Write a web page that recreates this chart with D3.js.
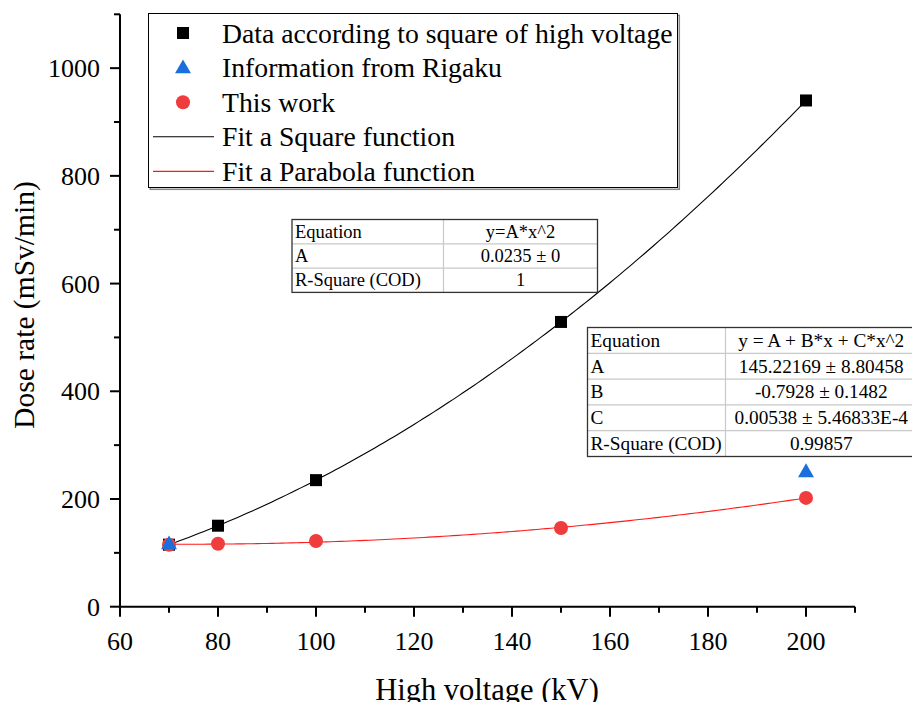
<!DOCTYPE html>
<html>
<head>
<meta charset="utf-8">
<script src="https://cdn.jsdelivr.net/npm/d3@7"></script>
<style>
  body { margin: 0; background: #fff; }
  text { font-family: "Liberation Serif", "DejaVu Serif", serif; fill: #000; }
</style>
</head>
<body>
<div id="chart"></div>
<script>
// voltages (kV)
var squareX = [70, 80, 100, 150, 200];
var squareY = [115.15, 150.4, 235, 528.75, 940];
var rigakuX = [70, 200];
var rigakuY = [117, 251];
var workX = [70, 80, 100, 150, 200];
var workY = [115, 117, 122, 146, 202];

// fit parameters shown in the tables
var squareA = 0.0235;
var paraA = 145.22169, paraB = -0.7928, paraC = 0.00538;

var legendLabels = ["Data according to square of high voltage", "Information from Rigaku",
    "This work", "Fit a Square function", "Fit a Parabola function"];
var table1 = [["Equation", "y=A*x^2"], ["A", "0.0235 \u00b1 0"], ["R-Square (COD)", "1"]];
var table2 = [["Equation", "y = A + B*x + C*x^2"], ["A", "145.22169 \u00b1 8.80458"],
    ["B", "-0.7928 \u00b1 0.1482"], ["C", "0.00538 \u00b1 5.46833E-4"], ["R-Square (COD)", "0.99857"]];

var xMajor = [60, 80, 100, 120, 140, 160, 180, 200];
var xMinor = [70, 90, 110, 130, 150, 170, 190, 210];
var yMajor = [0, 200, 400, 600, 800, 1000];
var yMinor = [100, 300, 500, 700, 900, 1100];

var width = 912, height = 702;
var svg = d3.select("#chart").append("svg").attr("width", width).attr("height", height);

var x = d3.scaleLinear().domain([60, 210]).range([120, 855]);
var y = d3.scaleLinear().domain([0, 1100]).range([606.7, 14.3]);

// fit curves
var curveXs = d3.range(70, 200.01, 1);
var line = d3.line().x(function(d) { return x(d[0]); }).y(function(d) { return y(d[1]); });
svg.append("path")
    .datum(curveXs.map(function(v) { return [v, squareA * v * v]; }))
    .attr("d", line).attr("fill", "none").attr("stroke", "#000").attr("stroke-width", 1.1);
svg.append("path")
    .datum(curveXs.map(function(v) { return [v, paraA + paraB * v + paraC * v * v]; }))
    .attr("d", line).attr("fill", "none").attr("stroke", "#ff1a1a").attr("stroke-width", 1.1);

// axes
function axisBits(g, scale, major, minor, horizontal) {
    g.append("line")
        .attr(horizontal ? "x1" : "y1", scale.range()[0])
        .attr(horizontal ? "x2" : "y2", scale.range()[1])
        .attr("stroke", "#000").attr("stroke-width", 2);
    [[major, 10], [minor, 6]].forEach(function(set) {
        g.selectAll(null).data(set[0]).enter().append("line")
            .attr(horizontal ? "x1" : "y1", function(d) { return scale(d); })
            .attr(horizontal ? "x2" : "y2", function(d) { return scale(d); })
            .attr(horizontal ? "y1" : "x1", 0)
            .attr(horizontal ? "y2" : "x2", horizontal ? set[1] : -set[1])
            .attr("stroke", "#000").attr("stroke-width", 2);
    });
}
var gx = svg.append("g").attr("transform", "translate(0," + y(0) + ")");
axisBits(gx, x, xMajor, xMinor, true);
gx.selectAll("text.tick").data(xMajor).enter().append("text")
    .attr("x", function(d) { return x(d); }).attr("y", 43)
    .attr("text-anchor", "middle").style("font-size", "26px").text(function(d) { return d; });

var gy = svg.append("g").attr("transform", "translate(" + x(60) + ",0)");
axisBits(gy, y, yMajor, yMinor, false);
gy.selectAll("text.tick").data(yMajor).enter().append("text")
    .attr("x", -20).attr("y", function(d) { return y(d) + 9; })
    .attr("text-anchor", "end").style("font-size", "26px").text(function(d) { return d; });

svg.append("text").attr("x", 487).attr("y", 700).attr("text-anchor", "middle")
    .style("font-size", "30.5px").text("High voltage (kV)");
svg.append("text").attr("transform", "translate(34,305) rotate(-90)").attr("text-anchor", "middle")
    .style("font-size", "29.5px").text("Dose rate (mSv/min)");

// markers
var sq = 12;
svg.selectAll("rect.sq").data(squareX).enter().append("rect")
    .attr("x", function(d) { return x(d) - sq / 2; })
    .attr("y", function(d, i) { return y(squareY[i]) - sq / 2; })
    .attr("width", sq).attr("height", sq).attr("fill", "#000");
svg.selectAll("circle.work").data(workX).enter().append("circle")
    .attr("cx", function(d) { return x(d); })
    .attr("cy", function(d, i) { return y(workY[i]); })
    .attr("r", 7).attr("fill", "#f03c3c");
var tri = d3.symbol().type(d3.symbolTriangle).size(110);
svg.selectAll("path.rig").data(rigakuX).enter().append("path")
    .attr("d", tri)
    .attr("transform", function(d, i) { return "translate(" + x(d) + "," + (y(rigakuY[i]) + 1) + ")"; })
    .attr("fill", "#1a6fdc");

// legend
var lg = svg.append("g");
lg.append("rect").attr("x", 149.5).attr("y", 14.5).attr("width", 529).attr("height", 174)
    .attr("fill", "none").attr("stroke", "#888").attr("stroke-width", 1.5).attr("transform", "translate(0.8,0.8)");
lg.append("rect").attr("x", 148.5).attr("y", 13.5).attr("width", 529).attr("height", 174)
    .attr("fill", "#fff").attr("stroke", "#000").attr("stroke-width", 1);
var rowY = function(i) { return 33 + i * 34.6; };
lg.selectAll("text").data(legendLabels).enter().append("text")
    .attr("x", 222).attr("y", function(d, i) { return rowY(i) + 9.5; })
    .style("font-size", "27.7px").text(function(d) { return d; });
lg.append("rect").attr("x", 183 - 6).attr("y", rowY(0) - 6).attr("width", 12).attr("height", 12).attr("fill", "#000");
lg.append("path").attr("d", tri).attr("transform", "translate(183," + (rowY(1) + 1) + ")").attr("fill", "#1a6fdc");
lg.append("circle").attr("cx", 183).attr("cy", rowY(2)).attr("r", 7).attr("fill", "#f03c3c");
lg.append("line").attr("x1", 153).attr("x2", 214).attr("y1", rowY(3)).attr("y2", rowY(3))
    .attr("stroke", "#000").attr("stroke-width", 1.1);
lg.append("line").attr("x1", 153).attr("x2", 214).attr("y1", rowY(4)).attr("y2", rowY(4))
    .attr("stroke", "#ff1a1a").attr("stroke-width", 1.1);

// fit tables
function drawTable(rows, left, top, split, right, rowH, fs) {
    var g = svg.append("g");
    g.append("rect").attr("x", left).attr("y", top).attr("width", right - left)
        .attr("height", rowH * rows.length).attr("fill", "#fff");
    rows.forEach(function(r, i) {
        if (i > 0) g.append("line").attr("x1", left).attr("x2", right)
            .attr("y1", top + i * rowH).attr("y2", top + i * rowH)
            .attr("stroke", "#c8c8c8").attr("stroke-width", 1.2);
        g.append("text").attr("x", left + 3).attr("y", top + i * rowH + rowH / 2 + fs * 0.33)
            .style("font-size", fs + "px").text(r[0]);
        g.append("text").attr("x", (split + right) / 2).attr("y", top + i * rowH + rowH / 2 + fs * 0.33)
            .attr("text-anchor", "middle").style("font-size", fs + "px").text(r[1]);
    });
    g.append("line").attr("x1", split).attr("x2", split).attr("y1", top).attr("y2", top + rowH * rows.length)
        .attr("stroke", "#c8c8c8").attr("stroke-width", 1.2);
    g.append("rect").attr("x", left).attr("y", top).attr("width", right - left)
        .attr("height", rowH * rows.length).attr("fill", "none").attr("stroke", "#333").attr("stroke-width", 1.3);
}
drawTable(table1, 292, 219.5, 443.5, 597.5, 24.3, 18.5);
drawTable(table2, 587.5, 327.5, 725.5, 917, 25.8, 19.3);
</script>
</body>
</html>
